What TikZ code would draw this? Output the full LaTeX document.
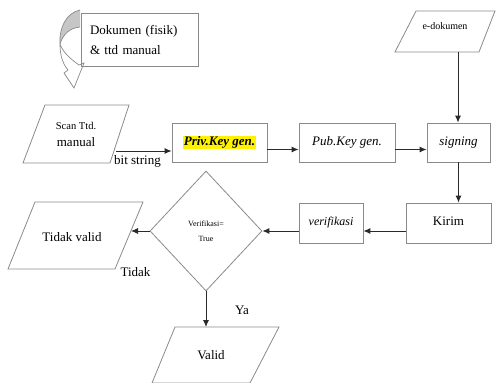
\documentclass[tikz,border=0pt]{standalone}
\usepackage{fontspec}
\setmainfont{Liberation Serif}
\usetikzlibrary{shapes.geometric,arrows.meta,calc}
\definecolor{edge}{HTML}{8A8A8A}
\definecolor{arr}{HTML}{2A2A2A}
\definecolor{hl}{HTML}{FFF200}
\begin{document}
\begin{tikzpicture}[x=1pt,y=-1pt,
  box/.style={draw=edge,line width=0.8pt,rectangle,inner sep=0pt,font=\fontsize{13}{15}\selectfont},
  pg/.style={draw=edge,line width=0.8pt},
  ptext/.style={inner sep=0pt,align=center,font=\fontsize{13}{15}\selectfont},
  conn/.style={draw=arr,line width=0.9pt,-{Latex[length=7pt,width=6pt]}},
  lbl/.style={inner sep=0pt,font=\fontsize{13}{15}\selectfont}]
\useasboundingbox (0,0) rectangle (496,383);

% curved arrow
\fill[gray!45] (80,10) .. controls (66,13) and (59,28) .. (60,44) .. controls (63,34) and (70,28) .. (80,27) -- cycle;
\draw[edge,line width=0.7pt] (80,10) .. controls (66,13) and (59,28) .. (60,44)
   .. controls (60,56) and (63,64) .. (68,70) -- (64,73) -- (74,88) -- (84,63) -- (79,65)
   .. controls (72,60) and (63,53) .. (60,44);
\draw[edge,line width=0.7pt] (60,44) .. controls (63,34) and (70,28) .. (80,27);

\node[box,minimum width=117,minimum height=53,text width=99pt,inner xsep=9pt,align=left,
  font=\fontsize{13}{20}\selectfont] (dok) at (139.5,39.5) {Dokumen (fisik)\\\& ttd manual};

% parallelograms
\draw[pg] (416,11) -- (495,11) -- (479,52) -- (395,52) -- cycle;
\node[ptext,font=\fontsize{10}{12}\selectfont] (edok) at (445,26) {e-dokumen};
\coordinate (edokb) at (458,52);

\draw[pg] (45,105) -- (129,105) -- (110,163) -- (23,163) -- cycle;
\node[ptext] (scan) at (76,134) {{\fontsize{10.5}{12}\selectfont Scan Ttd.}\\[2pt]manual};
\coordinate (bs) at (116,151);

\draw[pg] (35,202) -- (143,202) -- (115,269) -- (8,269) -- cycle;
\node[ptext] (tv) at (72,237) {Tidak valid};
\coordinate (tvr) at (131,231);

\draw[pg] (175,327) -- (279,327) -- (250,383) -- (152,383) -- cycle;
\node[ptext] (valid) at (211,355) {Valid};
\coordinate (validt) at (206,327);

\node[box,minimum width=95,minimum height=39] (priv) at (219.5,142.5)
  {\raisebox{3pt}{{\setlength{\fboxsep}{0.5pt}\colorbox{hl}{\textbf{\textit{Priv.Key gen.}}}}}};
\node[box,minimum width=96,minimum height=39] (pub) at (347,142.5) {\raisebox{3pt}{\textit{Pub.Key gen.}}};
\node[box,minimum width=63,minimum height=39] (sign) at (458.5,142.5) {\raisebox{3pt}{\textit{signing}}};
\node[box,minimum width=85,minimum height=40] (kirim) at (448.5,223) {\raisebox{4pt}{Kirim}};
\node[box,minimum width=64,minimum height=40,font=\fontsize{12}{14}\selectfont] (verif) at (331,223) {\raisebox{4pt}{\textit{verifikasi}}};
\node[draw=edge,line width=0.8pt,diamond,inner sep=0pt,minimum width=112,minimum height=120,align=center,
  font=\fontsize{8}{15}\selectfont] (dia) at (206,231) {Verifikasi=\\True};

\draw[conn] (bs) -- (bs -| priv.west);
\draw[conn] ([yshift=-7pt]priv.east) -- ([yshift=-7pt]pub.west);
\draw[conn] ([yshift=-7pt]pub.east) -- ([yshift=-7pt]sign.west);
\draw[conn] (edokb) -- (edokb |- sign.north);
\draw[conn] (sign.south) -- (sign.south |- kirim.north);
\draw[conn] ([yshift=-8pt]kirim.west) -- ([yshift=-8pt]verif.east);
\draw[conn] ([yshift=-8pt]verif.west) -- (dia.east);
\draw[conn] (dia.west) -- (tvr);
\draw[conn] (dia.south) -- (validt);

\node[lbl] (lbs) at (137.5,161) {bit string};
\node[lbl] (ltd) at (135.5,272) {Tidak};
\node[lbl] (lya) at (242,310) {Ya};
\end{tikzpicture}
\end{document}
